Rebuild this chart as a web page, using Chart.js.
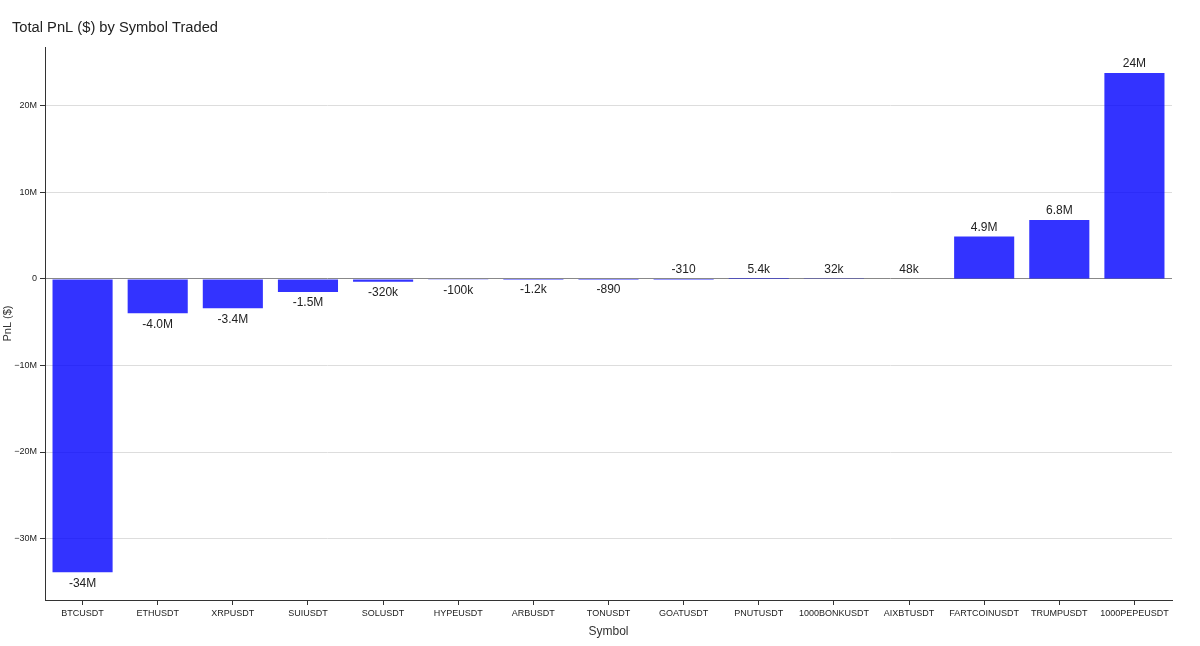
<!DOCTYPE html>
<html>
<head>
<meta charset="utf-8">
<title>Total PnL by Symbol Traded</title>
<script src="https://cdn.jsdelivr.net/npm/chart.js@4.4.1/dist/chart.umd.min.js"></script>
<style>
  html, body { margin: 0; padding: 0; background: #fff; }
  #wrap { width: 1200px; height: 646px; position: relative; }
</style>
</head>
<body>
<div id="wrap"><canvas id="pnlChart"></canvas></div>
<script>
const symbols = ['BTCUSDT', 'ETHUSDT', 'XRPUSDT', 'SUIUSDT', 'SOLUSDT', 'HYPEUSDT', 'ARBUSDT', 'TONUSDT',
  'GOATUSDT', 'PNUTUSDT', '1000BONKUSDT', 'AIXBTUSDT', 'FARTCOINUSDT', 'TRUMPUSDT', '1000PEPEUSDT'];
const pnl = [-33900000, -3980000, -3400000, -1500000, -320000, -100000, -1200, -890,
  -310, 5400, 32000, 48000, 4900000, 6800000, 23800000];
const yTicks = [-30000000, -20000000, -10000000, 0, 10000000, 20000000];

const FONT = "'Liberation Sans', Arial, Helvetica, sans-serif";

// plotly-like ".2s" formatting
const fmtSI = (v) => {
  const a = Math.abs(v);
  let s;
  if (a >= 1e6) s = Number((v / 1e6).toPrecision(2)).toFixed(a >= 1e7 ? 0 : 1) + 'M';
  else if (a >= 1e3) s = (a >= 1e4 ? Number((v / 1e3).toPrecision(2)).toFixed(0) : (v / 1e3).toFixed(1)) + 'k';
  else s = Number(v.toPrecision(2)).toString();
  return s;
};

const axisTick = (v) => {
  if (v === 0) return '0';
  const s = Math.abs(v / 1e6) + 'M';
  return v < 0 ? '\u2212' + s : s;
};

// value labels outside the bars
const barLabels = {
  id: 'barLabels',
  afterDatasetsDraw(chart) {
    const { ctx } = chart;
    const meta = chart.getDatasetMeta(0);
    const yScale = chart.scales.y;
    const zero = yScale.getPixelForValue(0);
    ctx.save();
    ctx.font = '12px ' + FONT;
    ctx.fillStyle = '#222';
    ctx.textAlign = 'center';
    meta.data.forEach((bar, i) => {
      const v = pnl[i];
      const h = bar.y - zero;
      if (v < 0 && h >= 0.005) {
        ctx.textBaseline = 'top';
        ctx.fillText(fmtSI(v), bar.x, bar.y + 5);
      } else {
        ctx.textBaseline = 'bottom';
        ctx.fillText(fmtSI(v), bar.x, Math.min(bar.y, zero) - 3);
      }
    });
    ctx.restore();
  }
};

const plotTitle = {
  id: 'plotTitle',
  afterDraw(chart) {
    const { ctx } = chart;
    ctx.save();
    ctx.font = '14.7px ' + FONT;
    ctx.fillStyle = '#222';
    ctx.textAlign = 'left';
    ctx.textBaseline = 'middle';
    ctx.fillText('Total PnL ($) by Symbol Traded', 12, 28);
    ctx.restore();
  }
};

const ctx = document.getElementById('pnlChart').getContext('2d');
new Chart(ctx, {
  type: 'bar',
  data: {
    labels: symbols,
    datasets: [{
      label: 'PnL',
      data: pnl,
      backgroundColor: 'rgba(0, 0, 255, 0.8)',
      borderWidth: 0,
      barPercentage: 0.8,
      categoryPercentage: 1
    }]
  },
  options: {
    responsive: true,
    maintainAspectRatio: false,
    animation: false,
    layout: { padding: { top: 47, right: 28, bottom: 0, left: 0 } },
    plugins: {
      legend: { display: false },
      tooltip: { enabled: false }
    },
    scales: {
      x: {
        grid: {
          offset: false,
          drawOnChartArea: false,
          tickLength: 5,
          tickColor: '#333'
        },
        border: { color: '#333', width: 1 },
        ticks: {
          color: '#222',
          font: { family: FONT, size: 9 },
          padding: 3,
          maxRotation: 0,
          autoSkip: false
        },
        title: {
          display: true,
          text: 'Symbol',
          color: '#333',
          font: { family: FONT, size: 12 },
          padding: { top: 4, bottom: 7 }
        },
        afterFit(scale) { scale.height = 46; }
      },
      y: {
        min: -37100000,
        max: 26800000,
        afterBuildTicks(scale) { scale.ticks = yTicks.map(v => ({ value: v })); },
        grid: {
          color: (c) => (c.tick && c.tick.value === 0 ? '#888' : '#ddd'),
          tickColor: '#333',
          tickLength: 5
        },
        border: { color: '#333', width: 1 },
        ticks: {
          color: '#222',
          font: { family: FONT, size: 9 },
          padding: 3,
          callback: (v) => axisTick(v)
        },
        title: {
          display: true,
          text: 'PnL ($)',
          color: '#333',
          font: { family: FONT, size: 11 },
          padding: 1
        },
        afterFit(scale) { scale.width = 45; }
      }
    }
  },
  plugins: [barLabels, plotTitle]
});
</script>
</body>
</html>
